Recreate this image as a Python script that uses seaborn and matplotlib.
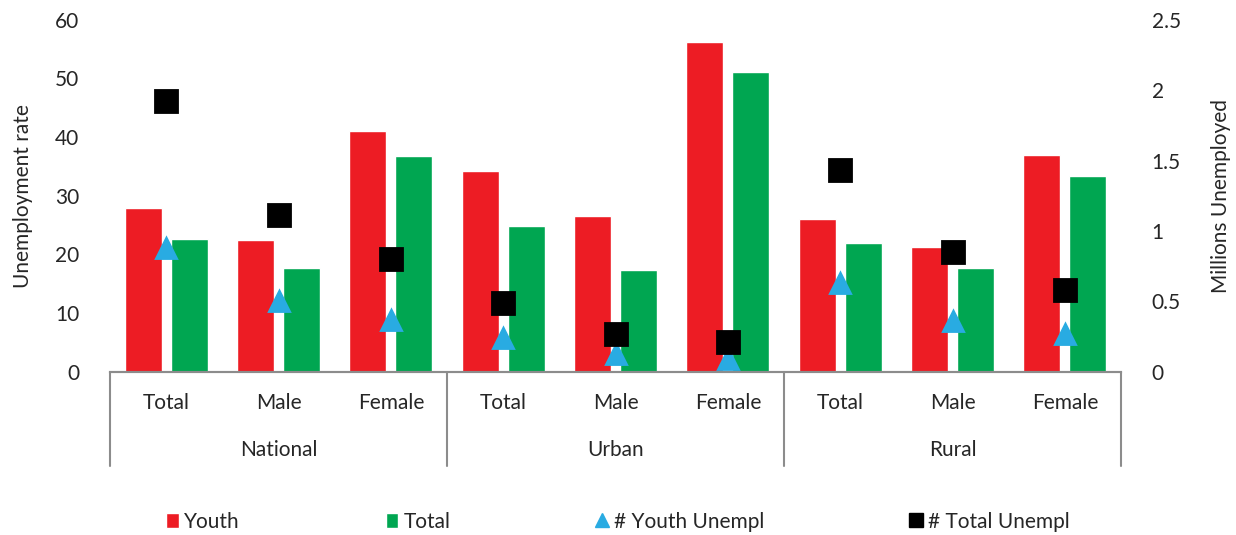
import numpy as np
import pandas as pd
import matplotlib
matplotlib.use("Agg")
import matplotlib.pyplot as plt
import matplotlib.transforms as mtransforms
from matplotlib.lines import Line2D
from matplotlib.patches import Patch
import seaborn as sns

# data
groups = ["National", "Urban", "Rural"]
subgroups = ["Total", "Male", "Female"]
youth_rate = [27.9, 22.5, 41.0, 34.2, 26.5, 56.2, 26.0, 21.2, 36.9]
total_rate = [22.7, 17.7, 36.7, 24.9, 17.4, 51.1, 21.9, 17.7, 33.3]
youth_unempl = [0.88, 0.50, 0.37, 0.24, 0.13, 0.09, 0.63, 0.36, 0.27]
total_unempl = [1.92, 1.115, 0.80, 0.49, 0.27, 0.21, 1.435, 0.85, 0.58]

RED = "#ED1C24"
GREEN = "#00A651"
BLUE = "#29ABE2"
GREY = "#8C8C8C"
FS = 15

sns.set_style("white")
plt.rcParams["font.family"] = ["Lato", "DejaVu Sans"]
plt.rcParams["font.size"] = FS

cats = [f"{g}|{s}" for g in groups for s in subgroups]
df = pd.DataFrame({
    "cat": cats * 2,
    "series": ["Youth"] * 9 + ["Total"] * 9,
    "rate": youth_rate + total_rate,
})
markers_df = pd.DataFrame({"cat": cats, "youth": youth_unempl, "total": total_unempl})

fig = plt.figure(figsize=(12.36, 5.35), dpi=100)
ax = fig.add_axes([0.089, 0.305, 0.818, 0.658])

sns.barplot(data=df, x="cat", y="rate", hue="series", order=cats,
            palette=[RED, GREEN], width=0.82, gap=0.2, ax=ax,
            legend=False, saturation=1)

ax2 = ax.twinx()
sns.pointplot(data=markers_df, x="cat", y="youth", order=cats, ax=ax2,
              color=BLUE, markers="^", linestyle="none", markersize=14.5)
sns.pointplot(data=markers_df, x="cat", y="total", order=cats, ax=ax2,
              color="black", markers="s", linestyle="none", markersize=15.5)

ax.set_xlim(-0.5, 8.5)
ax.set_ylim(0, 60)
ax.set_yticks(range(0, 61, 10))
ax2.set_ylim(0, 2.5)
ax2.set_yticks([0, 0.5, 1, 1.5, 2, 2.5])
ax2.set_yticklabels(["0", "0.5", "1", "1.5", "2", "2.5"])

for a in (ax, ax2):
    for side in ("top", "left", "right"):
        a.spines[side].set_visible(False)
    a.spines["bottom"].set_color(GREY)
    a.spines["bottom"].set_linewidth(1.5)
    a.set_xlabel("")
    a.tick_params(axis="y", length=0, labelsize=FS)

ax.tick_params(axis="y", pad=22)
ax2.tick_params(axis="y", pad=22)
ax.set_ylabel("Unemployment rate", fontsize=FS, labelpad=16)
ax2.set_ylabel("Millions Unemployed", fontsize=FS, labelpad=22)

ax.set_xticks(range(len(cats)))
ax.set_xticklabels(subgroups * 3, fontsize=FS)
ax.tick_params(axis="x", length=0, pad=15)
ax2.tick_params(axis="x", length=0, labelbottom=False)

# group labels and separators below the axis
trans = mtransforms.blended_transform_factory(ax.transData, ax.transAxes)
for i, g in enumerate(groups):
    ax.text(i * 3 + 1, -0.222, g, transform=trans, ha="center", va="center",
            fontsize=FS)
for xs in np.arange(-0.5, 9, 3):
    ax.plot([xs, xs], [0, -0.267], transform=trans, color=GREY, lw=1.5,
            clip_on=False)

handles = [
    Patch(facecolor=RED, label="Youth"),
    Patch(facecolor=GREEN, label="Total"),
    Line2D([], [], marker="^", color=BLUE, linestyle="none", markersize=10,
           label="# Youth Unempl"),
    Line2D([], [], marker="s", color="black", linestyle="none", markersize=10,
           label="# Total Unempl"),
]
fig.legend(handles=handles, loc="center", bbox_to_anchor=(0.5, 0.025),
           ncol=4, frameon=False, fontsize=FS, handlelength=0.6,
           handletextpad=0.25, columnspacing=7.0)

fig.savefig("out.png", dpi=100)
